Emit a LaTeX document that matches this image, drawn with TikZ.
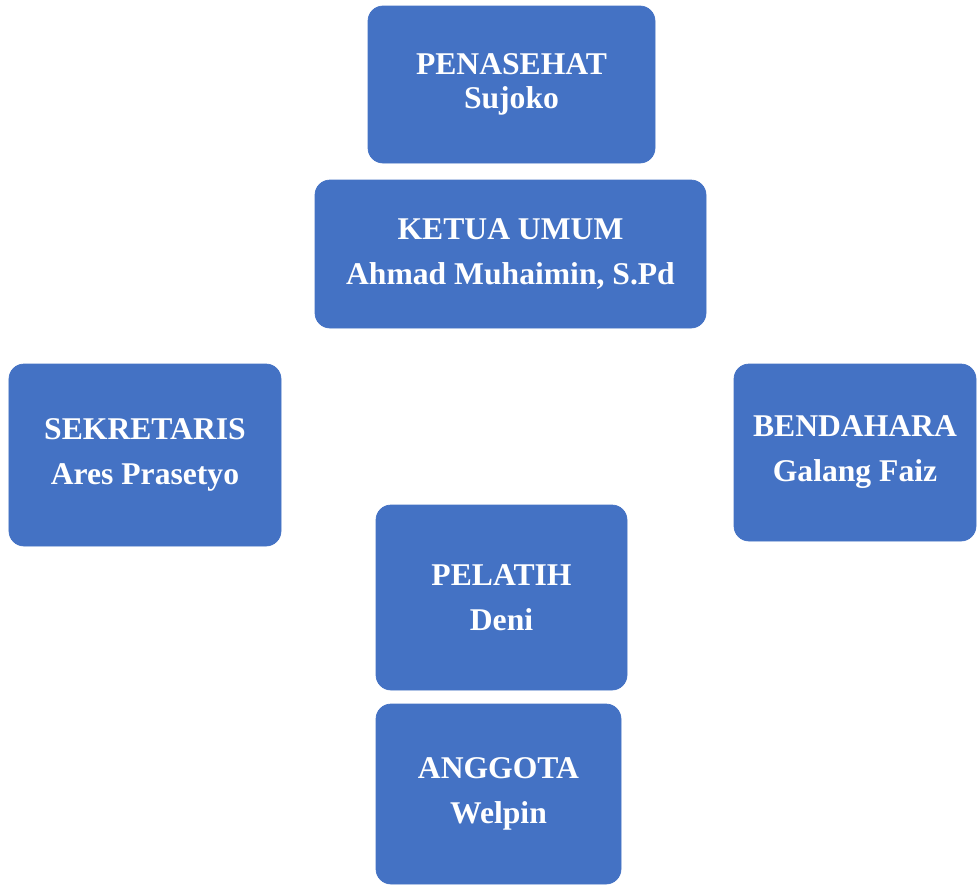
\documentclass[tikz,border=0pt]{standalone}
\usepackage{fontspec}
\setmainfont{Liberation Serif}
\usepackage{tikz}

\definecolor{boxblue}{HTML}{4472C4}
\tikzset{
  orgbox/.style={fill=boxblue, draw=boxblue, rounded corners=0.3cm, text=white,
    font=\fontsize{18}{25.6}\selectfont\bfseries, align=center, inner sep=0pt, outer sep=0pt},
}

\begin{document}
\begin{tikzpicture}
\useasboundingbox (0,0) rectangle (19.54,-17.72);
\node [orgbox, minimum width=5.74cm, minimum height=3.14cm,
  font=\fontsize{18}{19.4}\selectfont\bfseries] (penasehat) at (10.23,-1.69) {PENASEHAT\\Sujoko};
\node [orgbox, minimum width=7.82cm, minimum height=2.96cm] (ketua) at (10.21,-5.08) {KETUA UMUM\\Ahmad Muhaimin, S.Pd};
\node [orgbox, minimum width=5.44cm, minimum height=3.64cm] (sekretaris) at (2.90,-9.10) {SEKRETARIS\\Ares Prasetyo};
\node [orgbox, minimum width=4.84cm, minimum height=3.54cm] (bendahara) at (17.10,-9.05) {BENDAHARA\\Galang Faiz};
\node [orgbox, minimum width=5.02cm, minimum height=3.70cm] (pelatih) at (10.03,-11.95) {PELATIH\\Deni};
\node [orgbox, minimum width=4.90cm, minimum height=3.60cm] (anggota) at (9.97,-15.88) {ANGGOTA\\Welpin};
\end{tikzpicture}
\end{document}
